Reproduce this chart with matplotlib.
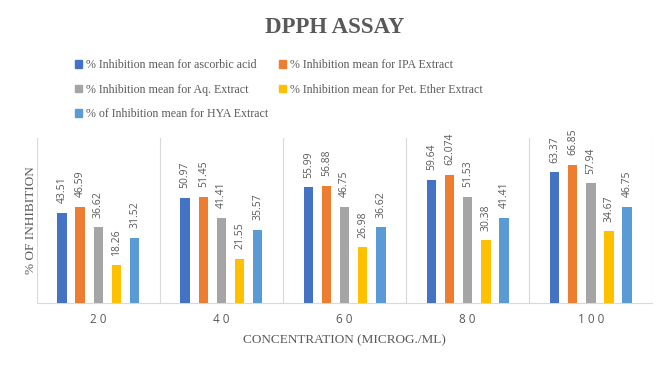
import matplotlib
matplotlib.use("Agg")
import matplotlib.pyplot as plt
import numpy as np
from matplotlib.patches import Patch

categories = ['20', '40', '60', '80', '100']
series_names = ['% Inhibition mean for ascorbic acid',
                '% Inhibition mean for IPA Extract',
                '% Inhibition mean for Aq. Extract',
                '% Inhibition mean for Pet. Ether Extract',
                '% of Inhibition mean for HYA Extract']
ascorbic = [43.51, 50.97, 55.99, 59.64, 63.37]
ipa = [46.59, 51.45, 56.88, 62.074, 66.85]
aq = [36.62, 41.41, 46.75, 51.53, 57.94]
pet = [18.26, 21.55, 26.98, 30.38, 34.67]
hya = [31.52, 35.57, 36.62, 41.41, 46.75]
label_text = [
    ['43.51', '50.97', '55.99', '59.64', '63.37'],
    ['46.59', '51.45', '56.88', '62.074', '66.85'],
    ['36.62', '41.41', '46.75', '51.53', '57.94'],
    ['18.26', '21.55', '26.98', '30.38', '34.67'],
    ['31.52', '35.57', '36.62', '41.41', '46.75'],
]
colors = ['#4472C4', '#ED7D31', '#A5A5A5', '#FFC000', '#5B9BD5']

data = [ascorbic, ipa, aq, pet, hya]

fig = plt.figure(figsize=(6.69, 3.65), dpi=100)
ax = fig.add_axes([0.055, 0.170, 0.920, 0.452])

x = np.arange(len(categories))
width = 0.078
step = 0.147
serif = ['Liberation Serif', 'DejaVu Serif']
sans = ['Open Sans', 'DejaVu Sans']
txtcol = '#595959'

for i, (vals, c) in enumerate(zip(data, colors)):
    pos = x + (i - 2) * step
    bars = ax.bar(pos, vals, width=width, color=c, zorder=3)
    for b, t in zip(bars, label_text[i]):
        ax.annotate(t, (b.get_x() + b.get_width() / 2, b.get_height()),
                    xytext=(0, 7), textcoords='offset points',
                    rotation=90, ha='center', va='bottom',
                    fontsize=7.5, color=txtcol, family=sans)

ax.set_xlim(-0.5, len(categories) - 0.5)
ax.set_ylim(0, 80)
ax.set_yticks([])
ax.set_xticks(x)
ax.set_xticklabels([' '.join(c) for c in categories], fontsize=8.5, color=txtcol, family=sans)
ax.set_xticks(np.arange(-0.5, len(categories)), minor=True)
ax.tick_params(axis='x', which='major', length=0, pad=7)
ax.tick_params(axis='x', which='minor', length=0)
ax.grid(which='minor', axis='x', color='#D9D9D9', linewidth=0.8, zorder=0)
for s in ['top', 'right', 'left']:
    ax.spines[s].set_visible(False)
ax.spines['bottom'].set_color('#D9D9D9')

ax.set_xlabel('CONCENTRATION (MICROG./ML)', fontsize=9.5, color=txtcol, family=serif, labelpad=6)
ax.set_ylabel('% OF INHIBITION', fontsize=9.5, color=txtcol, family=serif, labelpad=0)

fig.text(0.5, 0.926, 'DPPH ASSAY', ha='center', va='center', fontsize=16.5,
         fontweight='bold', color=txtcol, family=serif)

handles = [Patch(color=c) for c in colors]
order = [0, 2, 4, 1, 3]
leg = fig.legend([handles[i] for i in order], [series_names[i] for i in order],
                 ncol=2, loc='upper left', bbox_to_anchor=(0.105, 0.851),
                 frameon=False, prop={'family': serif, 'size': 8.6},
                 handlelength=0.6, handleheight=0.6, handletextpad=0.3,
                 columnspacing=0.9, labelspacing=1.05, borderaxespad=0)
for t in leg.get_texts():
    t.set_color(txtcol)

fig.savefig('out.png', dpi=100)
